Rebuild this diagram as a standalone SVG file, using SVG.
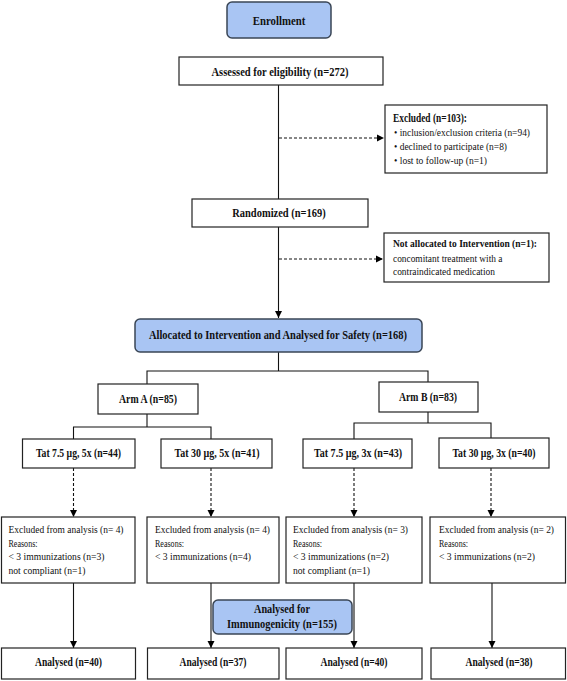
<svg xmlns="http://www.w3.org/2000/svg" width="567" height="681" viewBox="0 0 567 681">
<defs>
<style>
.box{fill:#fff;stroke:#222;stroke-width:1.2}
.rbox{fill:#a9c5f3;stroke:#3a4656;stroke-width:1.5}
.t{font-family:"Liberation Serif","Times New Roman",serif;font-size:10px;fill:#111}
.b{font-weight:bold;font-size:12px}
.b10{font-weight:bold;font-size:10px}
.c{text-anchor:middle}
.ln{stroke:#111;stroke-width:1.1;fill:none}
.dl{stroke-dasharray:3 2}
</style>
<marker id="ah" viewBox="0 0 10 10" refX="10" refY="5" markerWidth="7" markerHeight="8" orient="auto" markerUnits="userSpaceOnUse">
<path d="M0,0 L10,5 L0,10 z" fill="#000"/>
</marker>
</defs>
<rect width="567" height="681" fill="#fff"/>

<g id="connectors">
<line class="ln" x1="278.5" y1="85" x2="278.5" y2="199"/>
<line class="ln" x1="278.5" y1="227" x2="278.5" y2="318" marker-end="url(#ah)"/>
<line class="ln dl" x1="279" y1="138" x2="384" y2="138" marker-end="url(#ah)"/>
<line class="ln dl" x1="279" y1="259" x2="383" y2="259" marker-end="url(#ah)"/>
<line class="ln" x1="278.5" y1="352" x2="278.5" y2="371"/>
<polyline class="ln" points="147,384 147,371 428,371 428,382"/>
<line class="ln" x1="147" y1="414" x2="147" y2="427"/>
<polyline class="ln" points="73.5,439 73.5,427 211,427 211,439"/>
<line class="ln" x1="428" y1="412" x2="428" y2="423"/>
<polyline class="ln" points="354,439 354,423 491,423 491,438"/>
<line class="ln dl" x1="73.5" y1="468" x2="73.5" y2="517" marker-end="url(#ah)"/>
<line class="ln dl" x1="211" y1="468" x2="211" y2="517" marker-end="url(#ah)"/>
<line class="ln dl" x1="354" y1="468" x2="354" y2="517" marker-end="url(#ah)"/>
<line class="ln dl" x1="491" y1="468" x2="491" y2="517" marker-end="url(#ah)"/>
<line class="ln" x1="73.5" y1="583" x2="73.5" y2="648" marker-end="url(#ah)"/>
<line class="ln" x1="211" y1="583" x2="211" y2="648" marker-end="url(#ah)"/>
<line class="ln" x1="354" y1="583" x2="354" y2="648" marker-end="url(#ah)"/>
<line class="ln" x1="492" y1="583" x2="492" y2="648" marker-end="url(#ah)"/>
</g>

<g id="enrollment">
<rect class="rbox" x="227" y="2" width="104" height="36" rx="5"/>
<text class="t b c" x="279" y="24.5" textLength="52.5" lengthAdjust="spacingAndGlyphs">Enrollment</text>
</g>
<g id="assessed">
<rect class="box" x="179" y="57" width="204" height="28"/>
<text class="t b c" x="280" y="76" textLength="137" lengthAdjust="spacingAndGlyphs">Assessed for eligibility (n=272)</text>
</g>
<g id="excluded">
<rect class="box" x="385" y="105" width="162" height="68"/>
<text class="t b" x="393" y="122" textLength="74" lengthAdjust="spacingAndGlyphs">Excluded (n=103):</text>
<text class="t" x="394" y="136" textLength="136" lengthAdjust="spacingAndGlyphs">• inclusion/exclusion criteria (n=94)</text>
<text class="t" x="394" y="150" textLength="113" lengthAdjust="spacingAndGlyphs">• declined to participate (n=8)</text>
<text class="t" x="394" y="164" textLength="93" lengthAdjust="spacingAndGlyphs">• lost to follow-up (n=1)</text>
</g>
<g id="randomized">
<rect class="box" x="192" y="199" width="176" height="28"/>
<text class="t b c" x="279" y="217" textLength="93.5" lengthAdjust="spacingAndGlyphs">Randomized (n=169)</text>
</g>
<g id="notallocated">
<rect class="box" x="384" y="233" width="165" height="49"/>
<text class="t b10" x="393" y="247" textLength="144" lengthAdjust="spacingAndGlyphs">Not  allocated to Intervention (n=1):</text>
<text class="t" x="393" y="262" textLength="109.5" lengthAdjust="spacingAndGlyphs">concomitant treatment with a</text>
<text class="t" x="393" y="275" textLength="102" lengthAdjust="spacingAndGlyphs">contraindicated medication</text>
</g>
<g id="allocated">
<rect class="rbox" x="135" y="319" width="287" height="33" rx="5"/>
<text class="t b c" x="278" y="339" textLength="258" lengthAdjust="spacingAndGlyphs">Allocated to Intervention and Analysed for  Safety (n=168)</text>
</g>
<g id="armA">
<rect class="box" x="98" y="384" width="100" height="30"/>
<text class="t b c" x="148" y="403" textLength="58" lengthAdjust="spacingAndGlyphs">Arm A (n=85)</text>
</g>
<g id="armB">
<rect class="box" x="379" y="382" width="99" height="30"/>
<text class="t b c" x="428" y="401" textLength="58" lengthAdjust="spacingAndGlyphs">Arm B (n=83)</text>
</g>
<g id="tatA1">
<rect class="box" x="22.5" y="439" width="112.5" height="29"/>
<text class="t b c" x="78.5" y="457" textLength="85" lengthAdjust="spacingAndGlyphs">Tat 7.5 µg, 5x (n=44)</text>
</g>
<g id="tatA2">
<rect class="box" x="161" y="439" width="111" height="29"/>
<text class="t b c" x="217" y="457" textLength="85" lengthAdjust="spacingAndGlyphs">Tat 30 µg,  5x (n=41)</text>
</g>
<g id="tatB1">
<rect class="box" x="303" y="439" width="109" height="29"/>
<text class="t b c" x="358" y="457" textLength="88" lengthAdjust="spacingAndGlyphs">Tat 7.5 µg,  3x (n=43)</text>
</g>
<g id="tatB2">
<rect class="box" x="439" y="438" width="110" height="30"/>
<text class="t b c" x="494" y="457" textLength="83" lengthAdjust="spacingAndGlyphs">Tat 30 µg, 3x (n=40)</text>
</g>
<g id="exclA1">
<rect class="box" x="1.5" y="517" width="133.5" height="66"/>
<text class="t" x="8.5" y="533" textLength="115" lengthAdjust="spacingAndGlyphs">Excluded from analysis (n= 4)</text>
<text class="t" x="8.5" y="546.5" textLength="29" lengthAdjust="spacingAndGlyphs">Reasons:</text>
<text class="t" x="8.5" y="560" textLength="96" lengthAdjust="spacingAndGlyphs">&lt; 3 immunizations (n=3)</text>
<text class="t" x="8.5" y="574" textLength="77" lengthAdjust="spacingAndGlyphs">not compliant (n=1)</text>
</g>
<g id="exclA2">
<rect class="box" x="147" y="517" width="132" height="66"/>
<text class="t" x="155" y="533" textLength="115" lengthAdjust="spacingAndGlyphs">Excluded from analysis (n= 4)</text>
<text class="t" x="155" y="546.5" textLength="29" lengthAdjust="spacingAndGlyphs">Reasons:</text>
<text class="t" x="155" y="560" textLength="96" lengthAdjust="spacingAndGlyphs">&lt; 3 immunizations (n=4)</text>
</g>
<g id="exclB1">
<rect class="box" x="286" y="517" width="136" height="66"/>
<text class="t" x="293" y="533" textLength="115" lengthAdjust="spacingAndGlyphs">Excluded from analysis (n= 3)</text>
<text class="t" x="293" y="546.5" textLength="29" lengthAdjust="spacingAndGlyphs">Reasons:</text>
<text class="t" x="293" y="560" textLength="96" lengthAdjust="spacingAndGlyphs">&lt; 3 immunizations (n=2)</text>
<text class="t" x="293" y="574" textLength="77" lengthAdjust="spacingAndGlyphs">not compliant (n=1)</text>
</g>
<g id="exclB2">
<rect class="box" x="430" y="517" width="135.5" height="66"/>
<text class="t" x="439" y="533" textLength="115" lengthAdjust="spacingAndGlyphs">Excluded from analysis (n= 2)</text>
<text class="t" x="439" y="546.5" textLength="29" lengthAdjust="spacingAndGlyphs">Reasons:</text>
<text class="t" x="439" y="560" textLength="96" lengthAdjust="spacingAndGlyphs">&lt; 3 immunizations (n=2)</text>
</g>
<g id="immunogenicity">
<rect class="rbox" x="213" y="600" width="139" height="34" rx="5"/>
<text class="t b c" x="282" y="612.5" textLength="56" lengthAdjust="spacingAndGlyphs">Analysed for</text>
<text class="t b c" x="282" y="627.5" textLength="110" lengthAdjust="spacingAndGlyphs">Immunogenicity (n=155)</text>
</g>
<g id="analysedA1">
<rect class="box" x="1.5" y="648" width="134" height="31"/>
<text class="t b c" x="68.5" y="665.5" textLength="67" lengthAdjust="spacingAndGlyphs">Analysed (n=40)</text>
</g>
<g id="analysedA2">
<rect class="box" x="147.5" y="648" width="131.5" height="31"/>
<text class="t b c" x="213" y="665.5" textLength="67" lengthAdjust="spacingAndGlyphs">Analysed (n=37)</text>
</g>
<g id="analysedB1">
<rect class="box" x="286" y="648" width="136" height="31"/>
<text class="t b c" x="354" y="665.5" textLength="67" lengthAdjust="spacingAndGlyphs">Analysed (n=40)</text>
</g>
<g id="analysedB2">
<rect class="box" x="431" y="648" width="134.5" height="31"/>
<text class="t b c" x="499" y="665.5" textLength="67" lengthAdjust="spacingAndGlyphs">Analysed (n=38)</text>
</g>
</svg>
